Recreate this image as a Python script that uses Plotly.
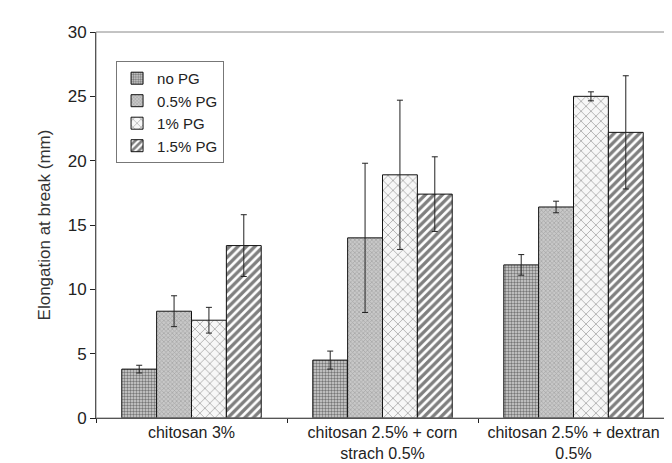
import plotly.graph_objects as go

categories = ["chitosan 3%", "chitosan 2.5% + corn<br>strach 0.5%", "chitosan 2.5% + dextran<br>0.5%"]
series_names = ["no PG", "0.5% PG", "1% PG", "1.5% PG"]
values = {
    "no PG": [3.8, 4.5, 11.9],
    "0.5% PG": [8.3, 14.0, 16.4],
    "1% PG": [7.6, 18.9, 25.0],
    "1.5% PG": [13.4, 17.4, 22.2],
}
errors = {
    "no PG": [0.3, 0.7, 0.8],
    "0.5% PG": [1.2, 5.8, 0.45],
    "1% PG": [1.0, 5.8, 0.35],
    "1.5% PG": [2.4, 2.9, 4.4],
}
y_ticks = [0, 5, 10, 15, 20, 25, 30]

patterns = {
    "no PG": dict(shape=".", fgcolor="#1a1a1a", bgcolor="#d4d4d4", size=3, solidity=0.5),
    "0.5% PG": dict(shape="x", fgcolor="#808080", bgcolor="#c8c8c8", size=3, solidity=0.4),
    "1% PG": dict(shape="x", fgcolor="#444", bgcolor="#f7f7f7", size=7, solidity=0.2),
    "1.5% PG": dict(shape="/", fgcolor="#000", bgcolor="white", size=6, solidity=0.55),
}

FONT = "Liberation Sans, Arial, sans-serif"
fig = go.Figure()
for name in series_names:
    fig.add_trace(go.Bar(
        name=name,
        x=categories,
        y=values[name],
        marker=dict(color="white", line=dict(color="#111", width=1), pattern=patterns[name]),
        error_y=dict(type="data", array=errors[name], visible=True, color="#222", thickness=1, width=3),
    ))

fig.update_layout(
    width=672, height=463,
    barmode="group", bargap=0.27, bargroupgap=0,
    paper_bgcolor="white", plot_bgcolor="white",
    margin=dict(l=88, r=11, t=24, b=53),
    font=dict(family=FONT, size=17, color="#222"),
    showlegend=True,
    legend=dict(
        x=0.035, y=0.925, xanchor="left", yanchor="top",
        bgcolor="white", bordercolor="#777", borderwidth=1,
        font=dict(family=FONT, size=15, color="#222"),
        tracegroupgap=0, itemwidth=30,
    ),
    shapes=[dict(type="rect", xref="paper", yref="paper", x0=0, y0=0, x1=1, y1=1,
                 line=dict(color="#888", width=1), fillcolor="rgba(0,0,0,0)", layer="above")],
)
fig.update_yaxes(
    range=[0, 30], tickvals=y_ticks, showgrid=False, zeroline=False,
    showline=True, linecolor="#222", linewidth=1,
    ticks="outside", ticklen=5, tickcolor="#222",
    title=dict(text="Elongation at break (mm)", font=dict(family=FONT, size=17, color="#333"), standoff=12),
    tickfont=dict(family=FONT, size=17, color="#222"),
    automargin=False,
)
fig.update_xaxes(
    showgrid=False, showline=True, linecolor="#222", linewidth=1,
    ticks="outside", ticklen=4, tickcolor="#222", tickson="boundaries",
    tickangle=0,
    tickfont=dict(family=FONT, size=16, color="#222"),
    automargin=False,
)

fig.write_html("out.html")
